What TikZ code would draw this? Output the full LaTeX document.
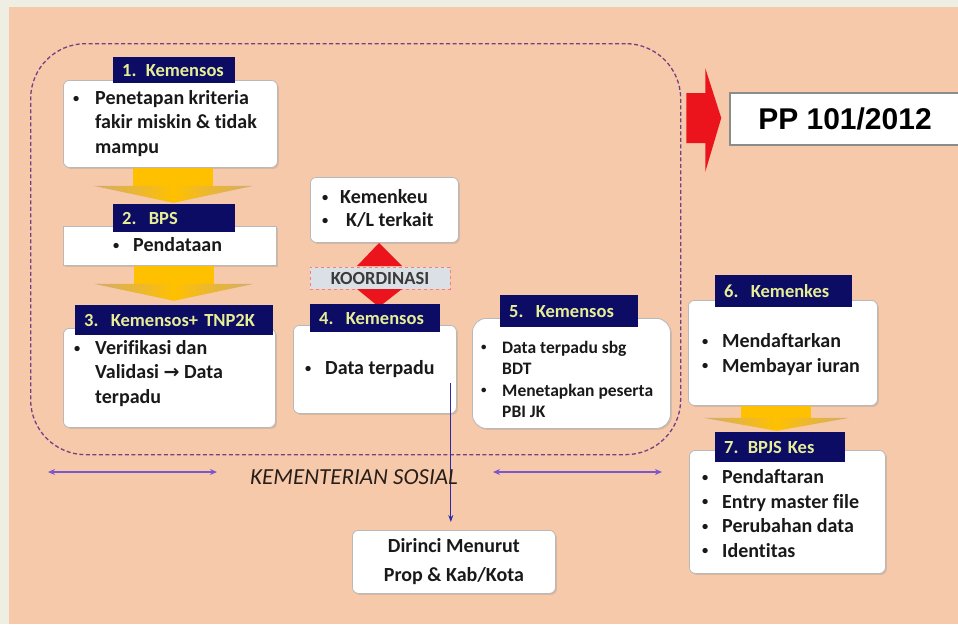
\documentclass[tikz,border=0pt]{standalone}
\usepackage{fontspec}
\usepackage{graphicx}
\setmainfont[Ligatures=NoCommon]{Carlito}
\newfontfamily\djv{DejaVu Sans}
\newfontfamily\lsans{Liberation Sans}
\usetikzlibrary{arrows.meta,shadows,calc}
\definecolor{cOuter}{RGB}{238,238,226}
\definecolor{cPeach}{RGB}{246,201,170}
\definecolor{cNavy}{RGB}{12,12,100}
\definecolor{cHdr}{RGB}{230,238,150}
\definecolor{cGold}{RGB}{255,192,0}
\definecolor{cWing}{RGB}{210,172,110}
\definecolor{cRed}{RGB}{236,20,28}
\definecolor{cDash}{RGB}{115,65,130}
\definecolor{cBlue}{RGB}{45,40,170}
\definecolor{cPurp}{RGB}{125,85,205}
\definecolor{cBord}{RGB}{185,185,185}
\definecolor{cKoord}{RGB}{218,224,230}
\definecolor{cText}{RGB}{25,25,25}
\definecolor{cKs}{RGB}{40,30,25}
\definecolor{cPPb}{RGB}{140,140,140}
\newcommand\mydot{\raisebox{2.4pt}{\scalebox{0.62}{\textbullet}}}
\newcommand\myb[1]{\makebox[#1][l]{\mydot}}
\newcommand\myi[1]{\hspace*{#1}}
\begin{document}
\begin{tikzpicture}[x=1pt,y=-1pt,
  wbox/.style={draw=cBord, line width=0.8pt, fill=white, rounded corners=6pt,
    anchor=north west, inner sep=0pt,
    drop shadow={shadow xshift=1.5pt, shadow yshift=-1.5pt, opacity=0.25}},
  hdr/.style={fill=cNavy, text=cHdr, anchor=north west, inner xsep=9pt, inner ysep=0pt,
    align=left, font=\bfseries\fontsize{18.5}{20}\selectfont},
  txt/.style={anchor=west, inner sep=0pt, align=left, text=cText,
    font=\bfseries\fontsize{20}{24.5}\selectfont},
  region/.style={draw=cDash, line width=1.3pt, dash pattern=on 4pt off 2.5pt,
    rounded corners=55pt, anchor=north west, inner sep=0pt},
  parr/.style={cPurp, line width=2.4pt, {Stealth[length=7pt,width=6pt]}-{Stealth[length=7pt,width=6pt]}},
  ywing/.style={left color=cWing, right color=cWing, middle color=cGold}
]
\useasboundingbox (0,0) rectangle (958,624);
\clip (0,0) rectangle (958,624);
\fill[cOuter] (0,0) rectangle (958,624);
\fill[cPeach] (9,7) rectangle (958,624);

% dashed region
\node[region, minimum width=650pt, minimum height=411pt] (ks) at (30,43) {};

% boxes
\node[wbox, minimum width=214pt, minimum height=87pt] (b1) at (63,80) {};
\node[wbox, sharp corners, minimum width=213pt, minimum height=39pt] (b2) at (63,226) {};
\node[wbox, minimum width=212pt, minimum height=99pt] (b3) at (63,328) {};
\node[wbox, minimum width=148pt, minimum height=65pt] (kk) at (310,177) {};
\node[wbox, minimum width=163pt, minimum height=88pt] (b4) at (293,325) {};
\node[wbox, rounded corners=14pt, minimum width=198pt, minimum height=110pt] (b5) at (472,318) {};
\node[wbox, minimum width=189pt, minimum height=105pt] (b6) at (688,300) {};
\node[wbox, minimum width=196pt, minimum height=123pt] (b7) at (689,450) {};
\node[wbox, minimum width=203pt, minimum height=63pt] (dir) at (352,530) {};
\node[draw=cPPb, line width=1.5pt, fill=white, minimum width=230pt, minimum height=52pt,
  inner sep=0pt, font=\lsans\bfseries\fontsize{30}{30}\selectfont] (pp) at (845,119) {PP 101/2012};

% texts
\node[txt] (t1) at (73,123.5) {\myb{22pt}Penetapan kriteria\\\myi{22pt}fakir miskin \& tidak\\\myi{22pt}mampu};
\node[txt] (t2) at (113,245) {\myb{20pt}Pendataan};
\node[txt] (t3) at (74,373.5) {\myb{21pt}Verifikasi dan\\\myi{21pt}Validasi {\djv\bfseries\fontsize{19}{19}\selectfont →} Data\\\myi{21pt}terpadu};
\node[txt, font=\bfseries\fontsize{20}{23}\selectfont] (tk) at (322,208.5) {\myb{18pt}Kemenkeu\\\myb{18pt}\hspace{6pt}K/L terkait};
\node[txt] (t4) at (305,369) {\myb{20pt}Data terpadu};
\node[txt, font=\bfseries\fontsize{17.5}{21.6}\selectfont] (t5) at (481,379.5) {\myb{21pt}Data terpadu sbg\\\myi{21pt}BDT\\\myb{21pt}Menetapkan peserta\\\myi{21pt}PBI JK};
\node[txt] (t6) at (702,354.5) {\myb{20pt}Mendaftarkan\\\myb{20pt}Membayar iuran};
\node[txt] (t7) at (702,513.5) {\myb{20pt}Pendaftaran\\\myb{20pt}Entry master file\\\myb{20pt}Perubahan data\\\myb{20pt}Identitas};
\node[txt, anchor=center, align=center, font=\bfseries\fontsize{20}{29}\selectfont] (tdir) at (dir.center) {Dirinci Menurut\\Prop \& Kab/Kota};

% yellow block arrows
\begin{scope}[shift={($(b1.south)+(3,0)$)}]
  \fill[cGold] (-40,0) rectangle (40,19);
  \shade[ywing] (-80,18) -- (80,18) -- (0,35) -- cycle;
\end{scope}
\begin{scope}[shift={($(b2.south)+(4,0)$)}]
  \fill[cGold] (-40,0) rectangle (40,19);
  \shade[ywing] (-80,18) -- (80,18) -- (0,35) -- cycle;
\end{scope}
\begin{scope}[shift={($(b6.south)+(-6.5,0)$)}]
  \fill[cGold] (-35,0) rectangle (35,13);
  \shade[ywing] (-73,12) -- (73,12) -- (0,25) -- cycle;
\end{scope}

% red arrow to PP
\begin{scope}[shift={(pp.west)}]
  \fill[cRed] (-43,-26) -- (-24,-26) -- (-24,-51) -- (-8,-1) -- (-24,53) -- (-24,24) -- (-43,24) -- cycle;
\end{scope}

% koordinasi
\node[draw=cRed!55, dashed, fill=cKoord, minimum width=140pt, minimum height=22pt, inner sep=0pt,
  text=cText!85, font=\bfseries\fontsize{18.5}{18.5}\selectfont] (ko) at (380,278) {KOORDINASI};
\begin{scope}[shift={(ko.center)}]
  \fill[cRed] (-1,-35) -- (22,-12) -- (-23,-12) -- cycle;
  \fill[cRed] (-23,11) -- (22,11) -- (-1,29) -- cycle;
\end{scope}

% headers
\node[hdr, text width=104pt, minimum height=26pt] (h1) at (113,57) {1. Kemensos};
\node[hdr, text width=104pt, minimum height=28pt] (h2) at (113,204) {2.\ \ BPS};
\node[hdr, text width=180pt, minimum height=30pt] (h3) at (75,305) {3.\ \ Kemensos+ TNP2K};
\node[hdr, text width=112pt, minimum height=28pt] (h4) at (310,304) {4.\ \ Kemensos};
\node[hdr, text width=120pt, minimum height=32pt] (h5) at (500,295) {5.\ \ Kemensos};
\node[hdr, text width=119pt, minimum height=32pt] (h6) at (715,275) {6.\ \ Kemenkes};
\node[hdr, text width=112pt, minimum height=30pt] (h7) at (715,432) {7. BPJS Kes};

% blue arrow
\coordinate (c4) at ($(b4.south east)+(-6,-31)$);
\draw[cBlue, line width=1.2pt, -{Stealth[length=7pt,width=5pt]}] (c4) -- ($(c4 |- dir.north)+(0,-8)$);

% KEMENTERIAN SOSIAL
\node[inner sep=0pt, text=cKs, font=\itshape\fontsize{23}{23}\selectfont] (ksl) at (354,477) {KEMENTERIAN SOSIAL};
\coordinate (pa1) at (48,472);
\coordinate (pa2) at (217,472);
\coordinate (pa3) at (493,472);
\coordinate (pa4) at (662,472);
\draw[parr] (pa1) -- (pa2);
\draw[parr] (pa3) -- (pa4);
\end{tikzpicture}
\end{document}
